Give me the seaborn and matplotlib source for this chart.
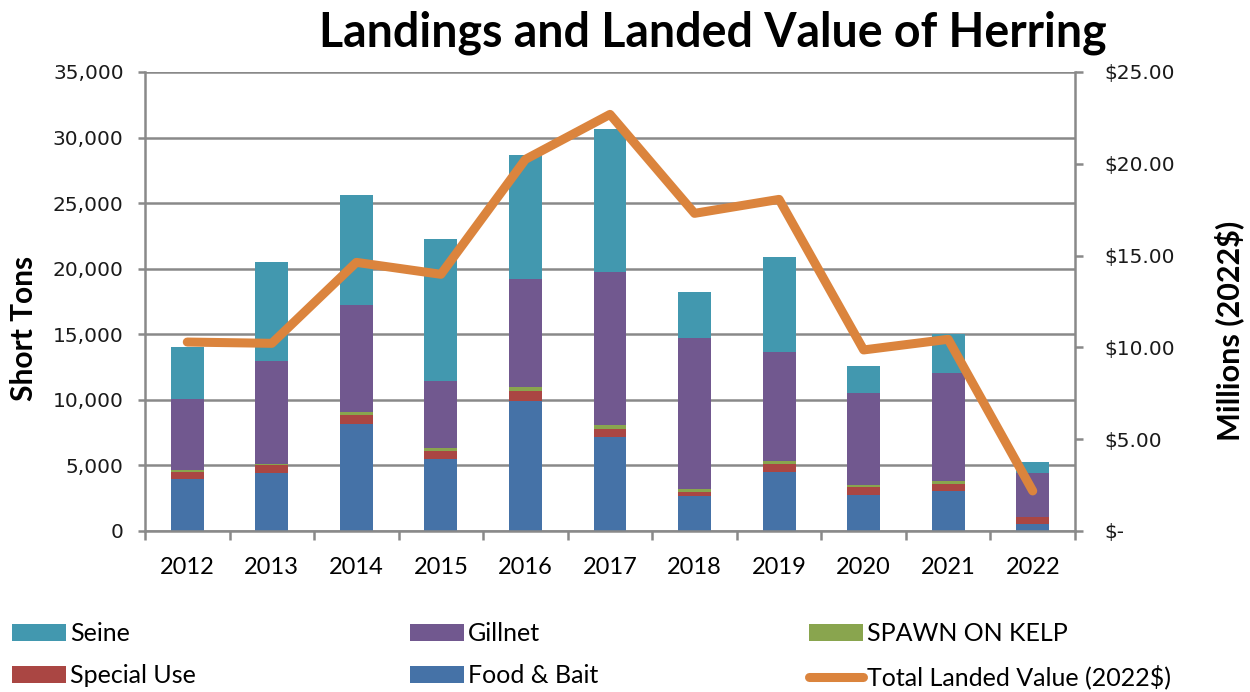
import numpy as np
import pandas as pd
import matplotlib
matplotlib.use("Agg")
import matplotlib.pyplot as plt
import seaborn as sns
from matplotlib.patches import Patch
from matplotlib.lines import Line2D
from matplotlib.ticker import FuncFormatter, MultipleLocator, FixedLocator

# ---------------- data ----------------
years = ["2012", "2013", "2014", "2015", "2016", "2017", "2018", "2019", "2020", "2021", "2022"]
food_bait = [3960, 4400, 8180, 5490, 9910, 7140, 2670, 4520, 2750, 3050, 530]
special_use = [560, 630, 690, 630, 790, 610, 300, 610, 630, 530, 510]
spawn_on_kelp = [110, 100, 230, 180, 250, 330, 230, 200, 100, 200, 20]
gillnet = [5470, 7820, 8130, 5130, 8230, 11640, 11530, 8340, 7060, 8280, 3340]
seine = [3950, 7570, 8385, 10800, 9500, 10900, 3460, 7240, 2040, 2950, 830]
landed_value = [10.29, 10.22, 14.63, 13.98, 20.24, 22.69, 17.30, 18.06, 9.86, 10.44, 2.18]

series_names = ["Food & Bait", "Special Use", "SPAWN ON KELP", "Gillnet", "Seine"]
series_vals = [food_bait, special_use, spawn_on_kelp, gillnet, seine]
colors = {
    "Seine": "#4298AF",
    "Gillnet": "#71588F",
    "SPAWN ON KELP": "#89A54E",
    "Special Use": "#AA4643",
    "Food & Bait": "#4572A7",
}
line_color = "#DB843D"
grid_color = "#898989"

sns.set_theme(style="white")
plt.rcParams['font.family'] = ['DejaVu Sans']
plt.rcParams['text.color'] = 'black'
LEG_FONT = ['Lato', 'DejaVu Sans']

fig = plt.figure(figsize=(12.5, 6.92), dpi=100)
ax = fig.add_axes([0.116, 0.2327, 0.744, 0.6633])

# stacked bars by overlaying cumulative totals (top layer first)
cum = np.cumsum(np.array(series_vals), axis=0)
for i in range(len(series_names) - 1, -1, -1):
    df = pd.DataFrame({"year": years, "tons": cum[i]})
    sns.barplot(data=df, x="year", y="tons", order=years, color=colors[series_names[i]],
                saturation=1, width=0.39, linewidth=0, errorbar=None, ax=ax)

ax.set_xlim(-0.5, len(years) - 0.5)
ax.set_ylim(0, 35000)
ax.yaxis.set_major_locator(MultipleLocator(5000))
ax.yaxis.set_major_formatter(FuncFormatter(lambda v, p: f"{v:,.0f}"))
ax.set_xlabel("")
ax.set_ylabel("")
ax.grid(axis="y", color=grid_color, linewidth=1.8)
ax.grid(axis="x", visible=False)
ax.set_axisbelow(True)

for s in ["top", "right"]:
    ax.spines[s].set_visible(False)
for s in ["left", "bottom"]:
    ax.spines[s].set_color(grid_color)
    ax.spines[s].set_linewidth(1.8)

ax.set_xticks(range(len(years)))
ax.set_xticklabels(years, family=LEG_FONT, fontsize=17)
ax.xaxis.set_minor_locator(FixedLocator(np.arange(-0.5, len(years), 1.0)))
ax.tick_params(axis="x", which="major", length=0, pad=19, labelcolor="black")
ax.tick_params(axis="x", which="minor", length=6.5, width=1.8, color=grid_color, bottom=True)
ax.tick_params(axis="y", which="major", length=5.4, width=1.8, color=grid_color, pad=10,
               labelsize=14.5, labelcolor="#1a1a1a", left=True)

# line on secondary axis
ax2 = ax.twinx()
sns.lineplot(x=np.arange(len(years)), y=landed_value, color=line_color, linewidth=6.5,
             solid_capstyle="round", ax=ax2)
ax2.set_ylim(0, 25)
ax2.set_xlim(-0.5, len(years) - 0.5)
ax2.yaxis.set_major_locator(MultipleLocator(5))
ax2.yaxis.set_major_formatter(FuncFormatter(lambda v, p: "$-" if abs(v) < 1e-9 else f"${v:.2f}"))
for s in ["top", "left", "bottom"]:
    ax2.spines[s].set_visible(False)
ax2.spines["right"].set_color(grid_color)
ax2.spines["right"].set_linewidth(1.8)
ax2.tick_params(axis="y", which="major", length=6, width=1.8, color=grid_color, pad=15,
                labelsize=14.5, labelcolor="#1a1a1a", right=True)
ax2.grid(False)
ax2.set_ylabel("")

# titles and axis labels
fig.text(0.570, 0.953, "Landings and Landed Value of Herring", family=LEG_FONT,
         fontsize=33.5, fontweight="bold", ha="center", va="center", color="black")
fig.text(0.019, 0.526, "Short Tons", family=LEG_FONT, fontsize=21.5, fontweight="bold",
         rotation=90, ha="center", va="center", color="black")
fig.text(0.983, 0.522, "Millions (2022$)", family=LEG_FONT, fontsize=22, fontweight="bold",
         rotation=90, ha="center", va="center", color="black")

# legend: three columns
def patch(name):
    return Patch(facecolor=colors[name], edgecolor="none", label=name)

line_handle = Line2D([0], [0], color=line_color, linewidth=6.5, solid_capstyle="round",
                     label="Total Landed Value (2022$)")
columns = [
    ([patch("Seine"), patch("Special Use")], 0.0096),
    ([patch("Gillnet"), patch("Food & Bait")], 0.328),
    ([patch("SPAWN ON KELP"), line_handle], 0.647),
]
for handles, xpos in columns:
    fig.legend(handles=handles, loc="upper left", bbox_to_anchor=(xpos, 0.1005),
               frameon=False, ncol=1, borderpad=0, borderaxespad=0,
               handlelength=2.16, handleheight=0.64, handletextpad=0.16,
               labelspacing=0.76, labelcolor="black", prop={"family": LEG_FONT, "size": 18})

fig.savefig("out.png", dpi=100)
